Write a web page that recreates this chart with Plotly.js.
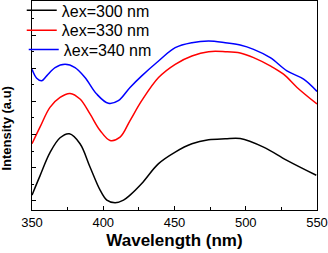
<!DOCTYPE html>
<html><head><meta charset="utf-8">
<script src="https://cdn.plot.ly/plotly-3.0.1.min.js"></script>
<style>html,body{margin:0;padding:0;background:#fff}#c{width:328px;height:253px}</style>
</head><body><div id="c"></div>
<script>
const wl300 = [350, 355.6, 362.6, 369.7, 376.2, 383.7, 390.7, 397.8, 402.5, 408.3, 414.2, 418.8, 427, 438.8, 450.5, 462.2, 473.9, 485.6, 496.1, 512.5, 528.9, 549.5];
const int300 = [0.17, 0.75, 1.45, 1.9, 2.02, 1.72, 1.02, 0.32, 0.02, -0.06, 0.02, 0.17, 0.52, 1.12, 1.47, 1.72, 1.84, 1.87, 1.88, 1.62, 1.22, 0.77];

const wl330 = [350, 355.6, 362.6, 369.7, 376.7, 383.7, 390.7, 397.8, 404.8, 411.8, 418.8, 427, 438.8, 450.5, 462.2, 473.9, 485.6, 496.1, 505.5, 517.2, 526.5, 536, 550];
const int330 = [1.72, 2.22, 2.82, 3.12, 3.24, 3.07, 2.62, 2.12, 1.82, 1.92, 2.42, 3.02, 3.72, 4.12, 4.37, 4.50, 4.50, 4.46, 4.32, 4.07, 3.82, 3.42, 2.92];

const wl340 = [350, 353.3, 356.8, 360.3, 366.2, 373.2, 380.2, 387.2, 395.4, 403.6, 410.6, 418.8, 427, 438.8, 450.5, 462.2, 473.9, 485.6, 496.1, 505.5, 517.2, 528.9, 540.6, 550];
const int340 = [3.97, 3.70, 3.62, 3.77, 4.02, 4.12, 4.02, 3.72, 3.22, 2.94, 3.02, 3.42, 3.77, 4.22, 4.62, 4.77, 4.82, 4.77, 4.70, 4.57, 4.32, 3.92, 3.67, 3.30];

const names = ['\u03BBex=300 nm', '\u03BBex=330 nm', '\u03BBex=340 nm'];
const colors = ['#000000', '#ff0000', '#0000ff'];
const xTicks = [350, 400, 450, 500, 550];
const xs = [wl300, wl330, wl340], ys = [int300, int330, int340];
const legendIds = ['legend', 'legend2', 'legend3'];
const legendY = [0.955, 0.860, 0.768];
const legendX = [-0.036, -0.036, -0.029];

const traces = xs.map((x, i) => ({
  x: x, y: ys[i], name: names[i], type: 'scatter', mode: 'lines', legend: legendIds[i],
  line: {color: colors[i], width: 1.5, shape: 'spline', smoothing: 1}
}));

const FONT = 'Liberation Sans, Arial, sans-serif';
const layout = {
  width: 328, height: 253,
  margin: {l: 32, r: 11, t: 1, b: 43, autoexpand: false},
  paper_bgcolor: '#fff', plot_bgcolor: '#fff',
  font: {family: FONT, color: '#000'},
  showlegend: true,
  xaxis: {
    range: [350, 550], tickvals: xTicks, ticktext: xTicks.map(String),
    ticks: 'inside', ticklen: 4, tickwidth: 1, tickcolor: '#000',
    minor: {tickvals: [375, 425, 475, 525], ticks: 'inside', ticklen: 3, tickcolor: '#000'},
    showline: true, linecolor: '#000', linewidth: 1, mirror: true, showgrid: false, zeroline: false,
    tickfont: {size: 13}, automargin: false,
    title: {text: '<b>Wavelength (nm)</b>', font: {size: 17}, standoff: 5}
  },
  yaxis: {
    range: [-0.28, 6.03], tickvals: [0,1,2,3,4,5,6], showticklabels: false,
    ticks: 'inside', ticklen: 4, tickwidth: 1, tickcolor: '#000',
    minor: {tickvals: [0.5,1.5,2.5,3.5,4.5,5.5], ticks: 'inside', ticklen: 2, tickcolor: '#000'},
    showline: true, linecolor: '#000', linewidth: 1, mirror: true, showgrid: false, zeroline: false,
    automargin: false
  },
  annotations: [{
    text: '<b>Intensity (a.u)</b>', textangle: -90, xref: 'paper', yref: 'paper',
    x: 0, y: 0.392, xanchor: 'right', yanchor: 'middle', xshift: -16, showarrow: false,
    font: {size: 13}
  }]
};
legendIds.forEach((id, i) => {
  layout[id] = {x: legendX[i], y: legendY[i], xanchor: 'left', yanchor: 'middle',
    bgcolor: 'rgba(0,0,0,0)', borderwidth: 0, font: {size: 16, family: FONT}};
});
Plotly.newPlot('c', traces, layout, {displayModeBar: false, staticPlot: true});
</script></body></html>
